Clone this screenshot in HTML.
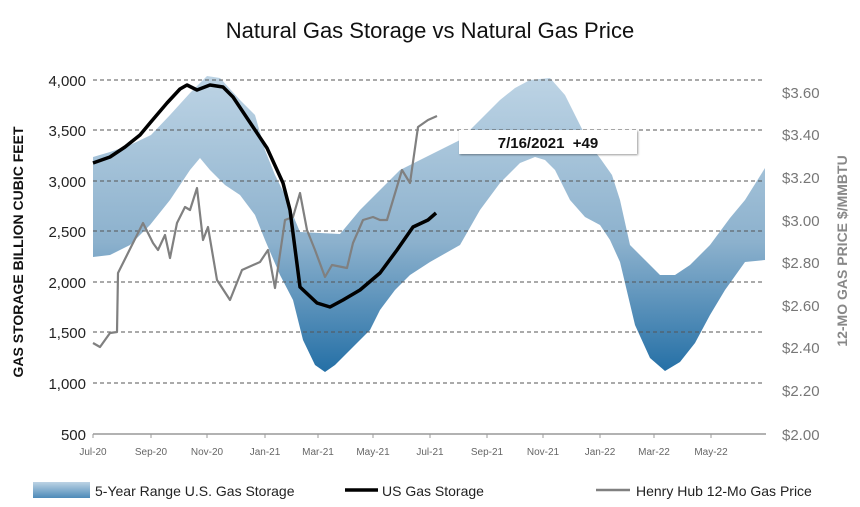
<!DOCTYPE html>
<html><head><meta charset="utf-8"><style>
body{margin:0;background:#fff;}
svg{display:block;font-family:"Liberation Sans",sans-serif;}
</style></head><body>
<svg width="860" height="507" viewBox="0 0 860 507" xmlns="http://www.w3.org/2000/svg">
<defs>
<linearGradient id="bg" gradientUnits="userSpaceOnUse" x1="0" y1="80" x2="0" y2="375">
<stop offset="0" stop-color="#bcd3e4"/>
<stop offset="0.55" stop-color="#8cb1cd"/>
<stop offset="1" stop-color="#226ea5"/>
</linearGradient>
<linearGradient id="lg" x1="0" y1="0" x2="0" y2="1">
<stop offset="0" stop-color="#bcd3e4"/><stop offset="1" stop-color="#4d8ab8"/>
</linearGradient>
<filter id="sh"><feDropShadow dx="1" dy="1" stdDeviation="1" flood-opacity="0.4"/></filter>
</defs>
<text x="430" y="38" text-anchor="middle" font-size="22" fill="#111">Natural Gas Storage vs Natural Gas Price</text>
<path fill="url(#bg)" d="M93,157 L110,152 130,145 151,135 170,115 190,93 207,76 220,78 240,100 255,115 265,150 275,175 285,195 295,220 300,232 340,234 360,210 380,190 400,170 430,155 460,140 480,120 500,100 515,88 530,80 550,78 565,95 580,125 590,145 600,158 612,175 620,200 630,245 645,260 660,275 675,275 690,265 710,245 730,218 745,200 765,168 L765,260 745,262 725,290 710,315 695,343 680,362 665,371 650,358 635,325 620,262 610,240 600,225 585,217 570,200 555,170 545,160 535,157 520,163 500,183 480,210 460,245 430,262 410,275 395,290 380,310 370,330 350,350 335,365 325,372 315,365 303,340 293,300 280,275 265,240 255,215 240,195 225,185 210,170 200,158 190,170 170,200 150,225 130,245 110,255 93,257 Z"/>
<g stroke="#555" stroke-dasharray="4,3" stroke-width="1">
<line x1="93" y1="80" x2="765" y2="80"/><line x1="93" y1="130" x2="765" y2="130"/>
<line x1="93" y1="181" x2="765" y2="181"/><line x1="93" y1="231" x2="765" y2="231"/>
<line x1="93" y1="282" x2="765" y2="282"/><line x1="93" y1="332" x2="765" y2="332"/>
<line x1="93" y1="383" x2="765" y2="383"/>
</g>
<line x1="93" y1="434" x2="766" y2="434" stroke="#999" stroke-width="1.5"/>
<g stroke="#999"><line x1="93" y1="434" x2="93" y2="438"/><line x1="151" y1="434" x2="151" y2="438"/><line x1="207" y1="434" x2="207" y2="438"/><line x1="265" y1="434" x2="265" y2="438"/><line x1="318" y1="434" x2="318" y2="438"/><line x1="373" y1="434" x2="373" y2="438"/><line x1="430" y1="434" x2="430" y2="438"/><line x1="487" y1="434" x2="487" y2="438"/><line x1="543" y1="434" x2="543" y2="438"/><line x1="600" y1="434" x2="600" y2="438"/><line x1="654" y1="434" x2="654" y2="438"/><line x1="711" y1="434" x2="711" y2="438"/></g>
<polyline fill="none" stroke="#808080" stroke-width="2.2" stroke-linejoin="round" points="93,343 100,347 110,333 117,332 118,273 143,223 153,243 158,250 165,235 170,258 177,223 185,207 190,210 197,188 203,240 208,227 217,280 230,300 242,270 260,262 268,250 275,288 285,220 293,217 300,193 307,230 315,250 325,277 332,265 347,268 353,243 363,220 373,217 380,220 387,220 393,200 402,170 410,183 418,127 428,120 437,116"/>
<polyline fill="none" stroke="#000" stroke-width="3.5" stroke-linejoin="round" points="93,163 110,157 125,147 140,135 150,123 167,103 180,89 187,85 197,90 210,85 223,87 233,97 253,127 267,148 283,183 290,210 300,287 317,303 330,307 343,300 360,290 380,273 397,250 413,227 428,220 436,213"/>
<rect x="459" y="130" width="178" height="24" fill="#fff" filter="url(#sh)"/>
<text x="548" y="148" text-anchor="middle" font-size="15" font-weight="bold" fill="#111">7/16/2021&#160;&#160;+49</text>
<g font-size="15" fill="#222" text-anchor="end">
<text x="86" y="86">4,000</text><text x="86" y="136">3,500</text><text x="86" y="187">3,000</text><text x="86" y="237">2,500</text><text x="86" y="288">2,000</text><text x="86" y="338">1,500</text><text x="86" y="389">1,000</text><text x="86" y="440">500</text>
</g>
<g font-size="15" fill="#777">
<text x="782" y="98">$3.60</text><text x="782" y="140">$3.40</text><text x="782" y="183">$3.20</text><text x="782" y="226">$3.00</text><text x="782" y="268">$2.80</text><text x="782" y="311">$2.60</text><text x="782" y="353">$2.40</text><text x="782" y="396">$2.20</text><text x="782" y="440">$2.00</text>
</g>
<g font-size="10" fill="#666" text-anchor="middle">
<text x="93" y="455">Jul-20</text><text x="151" y="455">Sep-20</text><text x="207" y="455">Nov-20</text><text x="265" y="455">Jan-21</text><text x="318" y="455">Mar-21</text><text x="373" y="455">May-21</text><text x="430" y="455">Jul-21</text><text x="487" y="455">Sep-21</text><text x="543" y="455">Nov-21</text><text x="600" y="455">Jan-22</text><text x="654" y="455">Mar-22</text><text x="711" y="455">May-22</text>
</g>
<text transform="translate(23,252) rotate(-90)" text-anchor="middle" font-size="14" font-weight="bold" fill="#111">GAS STORAGE BILLION CUBIC FEET</text>
<text transform="translate(847,251) rotate(-90)" text-anchor="middle" font-size="14" font-weight="bold" fill="#888">12-MO GAS PRICE $/MMBTU</text>
<rect x="33" y="482" width="57" height="16" fill="url(#lg)"/>
<text x="95" y="496" font-size="14" fill="#222">5-Year Range U.S. Gas Storage</text>
<line x1="345" y1="490" x2="378" y2="490" stroke="#000" stroke-width="3.5"/>
<text x="382" y="496" font-size="14" fill="#222">US Gas Storage</text>
<line x1="596" y1="490" x2="630" y2="490" stroke="#808080" stroke-width="2.5"/>
<text x="636" y="496" font-size="14" fill="#222">Henry Hub 12-Mo Gas Price</text>
</svg>
</body></html>
